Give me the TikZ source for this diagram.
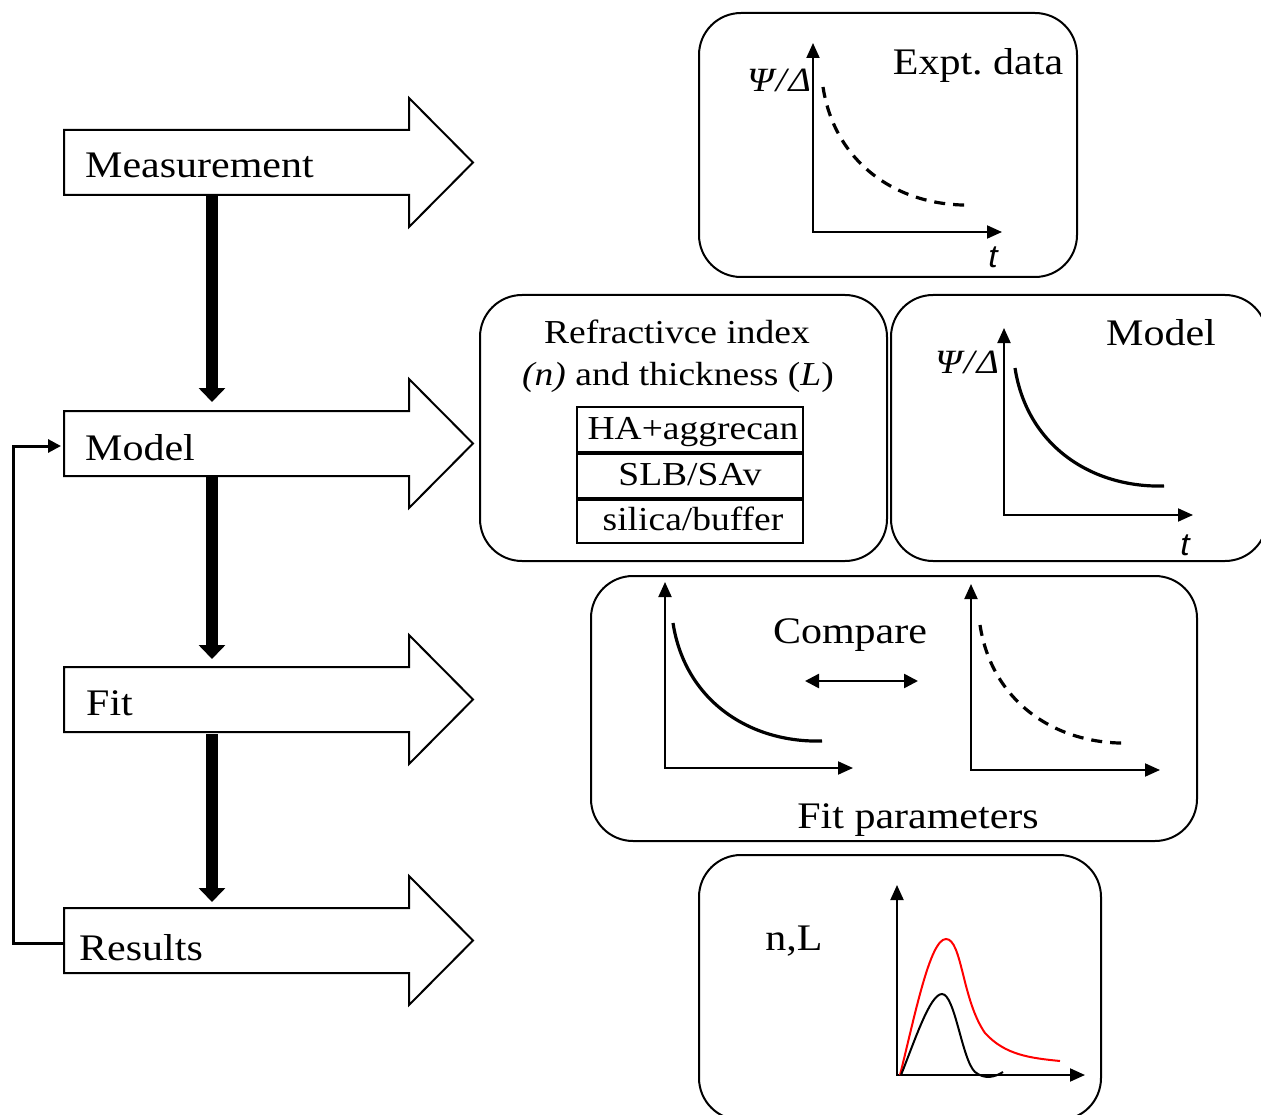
\documentclass[tikz,border=0pt]{standalone}
\usepackage{fontspec}
\setmainfont{Liberation Serif}[FakeStretch=1.12]
\newfontfamily\axisfont{Liberation Sans}[FakeStretch=1.05]
\usetikzlibrary{arrows.meta}
\frenchspacing

% block arrow with its body's top edge at y = #1
\newcommand\flowblock[1]{%
  \draw[blockarrow] (64,#1) -- (409,#1) -- (409,#1-32) -- (473,#1+32.5)
    -- (409,#1+97) -- (409,#1+65) -- (64,#1+65) -- cycle;}
% axis label Psi/Delta
\newcommand\psidelta{Ψ\hspace{2pt}/\hspace{2pt}Δ}

\begin{document}
\begin{tikzpicture}[x=1pt,y=-1pt,
  blockarrow/.style={draw, line width=2pt, line join=miter, fill=white},
  panel/.style={draw, line width=2pt, rounded corners=42pt, inner sep=0pt, outer sep=0pt},
  biglabel/.style={font=\fontsize{37.5}{40}\selectfont, inner sep=0pt},
  boxlabel/.style={font=\fontsize{33.5}{36}\selectfont, inner sep=0pt},
  greeklabel/.style={font=\fontsize{34}{36}\selectfont\itshape, inner sep=0pt},
  tlabel/.style={font=\axisfont\itshape\fontsize{32}{34}\selectfont, inner sep=0pt},
  flowarrow/.style={line width=12pt, -{Triangle[length=14pt,width=26pt]}},
  feedback/.style={line width=3pt, line join=miter, -{Triangle[length=13pt,width=13pt]}},
  axes/.style={line width=2pt, line join=miter,
    {Triangle[length=15pt,width=13pt]}-{Triangle[length=15pt,width=13pt]}},
  decay/.style={line width=3.2pt},
  dashdecay/.style={line width=3.2pt, dash pattern=on 11pt off 8pt},
  layer/.style={draw, line width=2pt, minimum width=226pt, minimum height=45.5pt,
    inner sep=0pt, text height=26pt, text depth=6pt,
    font=\fontsize{33.5}{36}\selectfont},
  compare/.style={line width=2.5pt,
    {Triangle[length=14pt,width=14pt]}-{Triangle[length=14pt,width=14pt]}}
]
\useasboundingbox (0,0) rectangle (1261,1115);
\clip (0,0) rectangle (1261,1115);

% ---- workflow column ----
\flowblock{130}
\flowblock{411}
\flowblock{667}
\flowblock{908}

\node[biglabel, anchor=base west] (tMeas) at (85,178) {Measurement};
\node[biglabel, anchor=base west] (tModel) at (85,460) {Model};
\node[biglabel, anchor=base west] (tFit) at (86,715) {Fit};
\node[biglabel, anchor=base west] (tRes) at (79,960) {Results};

\coordinate (measBot) at (212,195);
\coordinate (modelTop) at (212,402);
\coordinate (modelBot) at (212,476);
\coordinate (fitTop) at (212,659);
\coordinate (fitBot) at (212,734);
\coordinate (resTop) at (212,902);
\coordinate (resW) at (64,943);
\coordinate (modelW) at (61,446);

\draw[flowarrow] (measBot) -- (modelTop);
\draw[flowarrow] (modelBot) -- (fitTop);
\draw[flowarrow] (fitBot) -- (resTop);
\draw[feedback] (resW) -- (13,943) |- (modelW);

% ---- panels ----
\node[panel, minimum width=378pt, minimum height=264pt] (expt) at (888,145) {};
\node[panel, minimum width=407pt, minimum height=266pt] (layers) at (683.5,428) {};
\node[panel, minimum width=376pt, minimum height=266pt] (modelbox) at (1079,428) {};
\node[panel, minimum width=606pt, minimum height=265pt] (fitbox) at (894,708.5) {};
\node[panel, minimum width=402pt, minimum height=265pt] (resbox) at (900,987.5) {};

% experimental data
\draw[axes] (813,43) -- (813,232) -- (1002,232);
\draw[dashdecay] (823,87) .. controls (835,165) and (900,207) .. (972,205);
\node[biglabel, anchor=base] (tExpt) at (978,75) {Expt. data};
\node[greeklabel, anchor=base] (yExpt) at (779,92) {\psidelta};
\node[tlabel, anchor=base] (xExpt) at (993,268) {t};

% layer model
\node[boxlabel, anchor=base] (tRefr) at (677,343) {Refractivce index};
\node[boxlabel, anchor=base] (tNL) at (678,385) {\textit{(n)} and thickness (\textit{L})};
\node[layer] (l1) at (690,429.5) {\hspace{6pt}HA+aggrecan};
\node[layer] (l2) at (690,475) {SLB/SAv};
\node[layer] (l3) at (690,520.5) {\hspace{6pt}silica/buffer};
\draw[line width=3.5pt] (l1.south west) -- (l1.south east);
\draw[line width=3.5pt] (l2.south west) -- (l2.south east);

% model curve
\draw[axes] (1004,328) -- (1004,515) -- (1193,515);
\draw[decay] (1015,368) .. controls (1027,446) and (1092,488) .. (1164,486);
\node[biglabel, anchor=base] (tModel2) at (1161,345) {Model};
\node[greeklabel, anchor=base] (yModel) at (967,373) {\psidelta};
\node[tlabel, anchor=base] (xModel) at (1185,555) {t};

% fit comparison
\draw[axes] (665,582) -- (665,768) -- (853,768);
\draw[decay] (673,623) .. controls (685,701) and (750,743) .. (822,741);
\draw[axes] (971,584) -- (971,770) -- (1160,770);
\draw[dashdecay] (980,625) .. controls (992,703) and (1057,745) .. (1129,743);
\coordinate (cmpL) at (805,681);
\coordinate (cmpR) at (918,681);
\draw[compare] (cmpL) -- (cmpR);
\node[biglabel, anchor=base] (tCmp) at (850,643) {Compare};
\node[biglabel, anchor=base] (tFitp) at (918,828) {Fit parameters};

% results
\node[biglabel, anchor=base] (tnL) at (794,950) {n,L};
\draw[axes] (897,885) -- (897,1075) -- (1085,1075);
\draw[line width=2pt, red] (900,1075) .. controls (915,1015) and (930,939) .. (946,939)
  .. controls (962,939) and (962,1000) .. (985,1033)
  .. controls (1005,1055) and (1030,1058) .. (1060,1061);
\draw[line width=2pt] (901,1075) .. controls (915,1040) and (930,994) .. (942,994)
  .. controls (955,994) and (962,1060) .. (975,1072)
  .. controls (985,1080) and (995,1077) .. (1003,1072);
\end{tikzpicture}
\end{document}
